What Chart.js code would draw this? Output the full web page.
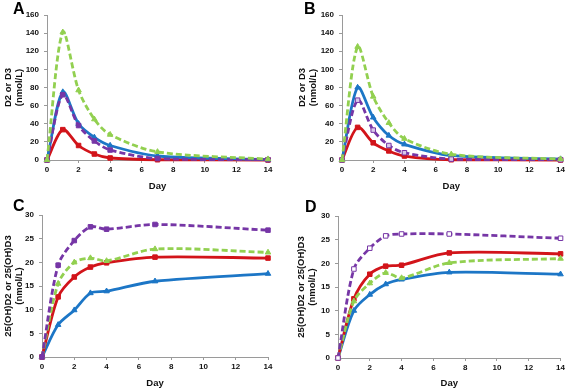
<!DOCTYPE html>
<html>
<head>
<meta charset="utf-8">
<script src="https://cdn.jsdelivr.net/npm/chart.js@4.4.1/dist/chart.umd.min.js"></script>
<style>
  html, body { margin: 0; padding: 0; background: #fff; }
  #wrap { position: relative; width: 567px; height: 389px; overflow: hidden; }
  .pane { position: absolute; }
  .letter { position: absolute; font: bold 16px "Liberation Sans", Arial, sans-serif; color: #000; line-height: 1; }
</style>
</head>
<body>
<div id="wrap">
  <div class="pane" style="left:0;top:0;width:283px;height:195px"><canvas id="cA"></canvas></div>
  <div class="pane" style="left:283px;top:0;width:284px;height:195px"><canvas id="cB"></canvas></div>
  <div class="pane" style="left:0;top:195px;width:283px;height:194px"><canvas id="cC"></canvas></div>
  <div class="pane" style="left:283px;top:195px;width:284px;height:194px"><canvas id="cD"></canvas></div>
  <div class="letter" style="left:13px;top:1px">A</div>
  <div class="letter" style="left:304px;top:1px">B</div>
  <div class="letter" style="left:13px;top:198px">C</div>
  <div class="letter" style="left:305px;top:199px">D</div>
</div>
<script>
// sampling days (x values shared by all series)
const days = [0, 1, 2, 3, 4, 7, 14];
const xTicks = [0, 2, 4, 6, 8, 10, 12, 14];

// panel A: D2 / D3 concentration
const aGreen  = [0, 141, 77, 45, 28, 9, 1];
const aBlue   = [0, 75, 40, 25, 16, 4.4, 0.5];
const aPurple = [0, 72, 38, 21, 11, 1.6, 0.3];
const aRed    = [0, 33.5, 16, 6.6, 2.2, 0.3, 0];

// panel B
const bGreen  = [0, 125, 70, 41, 23.5, 6.3, 1];
const bBlue   = [0, 80, 47, 27, 17.3, 5, 1];
const bPurple = [0, 66, 33, 16, 8, 1, 0.3];
const bRed    = [0, 36, 19, 10, 4.4, 0.3, 0];

// panel C: 25(OH)D2 / 25(OH)D3
const cPurple = [0, 19.4, 24.6, 27.5, 27, 28, 26.8];
const cGreen  = [0, 15.5, 20, 20.9, 20.3, 22.8, 22.1];
const cRed    = [0, 12.7, 16.9, 19, 19.9, 21.1, 20.9];
const cBlue   = [0, 6.8, 9.9, 13.5, 13.9, 16, 17.6];

// panel D
const dPurple = [0, 18.8, 23.2, 25.8, 26.2, 26.2, 25.3];
const dRed    = [0, 12.5, 17.7, 19.4, 19.6, 22.2, 22];
const dGreen  = [0, 12, 15.8, 18, 16.9, 20.1, 21];
const dBlue   = [0, 10, 13.4, 15.6, 16.6, 18.1, 17.7];

const GREEN = '#92D050';
const BLUE = '#1C76C6';
const RED = '#D2141A';
const PURPLE = '#7636A6';
const AXIS = '#9a9a9a';
const FONT = '"Liberation Sans", Arial, sans-serif';

function pts(vals) { return days.map((d, i) => ({ x: d, y: vals[i] })); }

function series(vals, color, style, marker, fill) {
  return {
    data: pts(vals),
    borderColor: color,
    backgroundColor: fill || color,
    pointBackgroundColor: fill || color,
    pointBorderColor: color,
    pointBorderWidth: 1,
    pointStyle: marker,
    pointRadius: 3.2,
    borderWidth: 2.8,
    borderDash: style === 'dash' ? [6, 3] : [],
    tension: 0.3,
    clip: false
  };
}

function mkPanel(id, cfg) {
  return new Chart(document.getElementById(id), {
    type: 'line',
    data: { datasets: cfg.datasets },
    options: {
      responsive: true,
      maintainAspectRatio: false,
      animation: false,
      layout: { padding: { top: cfg.padTop, right: cfg.padRight, left: 0, bottom: 0 } },
      plugins: { legend: { display: false }, tooltip: { enabled: false } },
      scales: {
        x: {
          type: 'linear', min: 0, max: 14,
          afterBuildTicks: (s) => { s.ticks = xTicks.map(v => ({ value: v })); },
          afterFit: (s) => { s.height = cfg.xH; },
          grid: { drawOnChartArea: false, drawTicks: true, tickLength: 3, color: AXIS },
          border: { color: AXIS, width: 1 },
          ticks: { padding: 2, color: '#111', font: { family: FONT, size: 8, weight: 'bold' }, maxRotation: 0 },
          title: { display: true, text: 'Day', color: '#111', padding: { top: 0, bottom: cfg.dayPad },
                   font: { family: FONT, size: 9.5, weight: 'bold', lineHeight: 1.2 } }
        },
        y: {
          min: 0, max: cfg.yMax,
          afterBuildTicks: (s) => { s.ticks = cfg.yTicks.map(v => ({ value: v })); },
          afterFit: (s) => { s.width = cfg.yW; },
          grid: { drawOnChartArea: false, drawTicks: true, tickLength: 3, color: AXIS },
          border: { color: AXIS, width: 1 },
          ticks: { padding: 5, color: '#111', font: { family: FONT, size: 8, weight: 'bold' } },
          title: { display: true, text: cfg.yTitle, color: '#111', padding: { top: cfg.titlePad, bottom: 0 },
                   font: { family: FONT, size: 9.5, weight: 'bold', lineHeight: 1.25 } }
        }
      }
    }
  });
}

const ticksTop = [0, 20, 40, 60, 80, 100, 120, 140, 160];
const ticksBottom = [0, 5, 10, 15, 20, 25, 30];
const titleTop = ['D2 or D3', '(nmol/L)'];
const titleBottom = ['25(OH)D2 or 25(OH)D3', '(nmol/L)'];

mkPanel('cA', {
  yMax: 160, yTicks: ticksTop, yTitle: titleTop,
  padTop: 15, padRight: 15, yW: 47, xH: 35, titlePad: 2, dayPad: 3,
  datasets: [
    series(aGreen, GREEN, 'dash', 'triangle'),
    series(aPurple, PURPLE, 'dash', 'rect'),
    series(aBlue, BLUE, 'solid', 'triangle'),
    series(aRed, RED, 'solid', 'rect')
  ]
});

mkPanel('cB', {
  yMax: 160, yTicks: ticksTop, yTitle: titleTop,
  padTop: 15, padRight: 5, yW: 59, xH: 35, titlePad: 13, dayPad: 3,
  datasets: [
    series(bGreen, GREEN, 'dash', 'triangle'),
    series(bPurple, PURPLE, 'dash', 'rect', '#d9c8ea'),
    series(bBlue, BLUE, 'solid', 'triangle'),
    series(bRed, RED, 'solid', 'rect')
  ]
});

mkPanel('cC', {
  yMax: 30, yTicks: ticksBottom, yTitle: titleBottom,
  padTop: 20, padRight: 15, yW: 42, xH: 32, titlePad: 2, dayPad: 0,
  datasets: [
    series(cPurple, PURPLE, 'dash', 'rect'),
    series(cGreen, GREEN, 'dash', 'triangle'),
    series(cRed, RED, 'solid', 'rect'),
    series(cBlue, BLUE, 'solid', 'triangle')
  ]
});

mkPanel('cD', {
  yMax: 30, yTicks: ticksBottom, yTitle: titleBottom,
  padTop: 21, padRight: 5, yW: 55, xH: 31, titlePad: 12, dayPad: 0,
  datasets: [
    series(dPurple, PURPLE, 'dash', 'rect', '#ffffff'),
    series(dGreen, GREEN, 'dash', 'triangle'),
    series(dRed, RED, 'solid', 'rect'),
    series(dBlue, BLUE, 'solid', 'triangle')
  ]
});
</script>
</body>
</html>
